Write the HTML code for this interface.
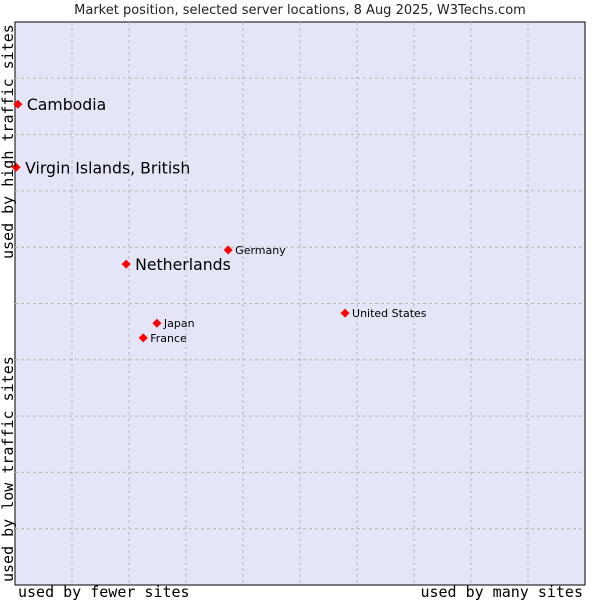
<!DOCTYPE html>
<html><head><meta charset="utf-8"><style>
body{margin:0;background:#fff;}
svg{display:block;}
</style></head><body>
<svg id="chart" width="600" height="600" xmlns="http://www.w3.org/2000/svg">
<rect x="0" y="0" width="600" height="600" fill="#fff"/>
<text x="300" y="14" text-anchor="middle" font-family="DejaVu Sans, sans-serif" font-size="13" fill="#222">Market position, selected server locations, 8 Aug 2025, W3Techs.com</text>
<rect x="15" y="22" width="570" height="563" fill="#e4e6f8" stroke="#000" stroke-width="1"/>
<g id="grid"></g>
<g id="points"></g>
<text x="18" y="597" font-family="DejaVu Sans Mono, monospace" font-size="15" fill="#000">used by fewer sites</text>
<text x="583" y="597" text-anchor="end" font-family="DejaVu Sans Mono, monospace" font-size="15" fill="#000">used by many sites</text>
<text transform="translate(13,259) rotate(-90)" font-family="DejaVu Sans Mono, monospace" font-size="15" fill="#000">used by high traffic sites</text>
<text transform="translate(13,582) rotate(-90)" font-family="DejaVu Sans Mono, monospace" font-size="15" fill="#000">used by low traffic sites</text>
</svg>
<script>
const names = ["Cambodia","Virgin Islands, British","Netherlands","Germany","United States","Japan","France"];
const xValues = [0.5,0.2,19.5,37.4,57.9,24.9,22.5];
const yValues = [85.4,74.2,57.0,59.5,48.3,46.5,43.9];
const highlighted = [true,true,true,false,false,false,false];
const NS="http://www.w3.org/2000/svg";
const X0=15,X1=585,Y0=585,Y1=22;
function sx(v){return X0+(X1-X0)*v/100;}
function sy(v){return Y0-(Y0-Y1)*v/100;}
const grid=document.getElementById('grid');
for(let i=1;i<10;i++){
  const v=document.createElementNS(NS,'line');
  v.setAttribute('x1',sx(i*10));v.setAttribute('x2',sx(i*10));v.setAttribute('y1',Y1);v.setAttribute('y2',Y0);
  v.setAttribute('stroke','#b8b8b8');v.setAttribute('stroke-dasharray','3,3');
  
  
  grid.appendChild(v);
  const h=document.createElementNS(NS,'line');
  h.setAttribute('y1',sy(i*10));h.setAttribute('y2',sy(i*10));h.setAttribute('x1',X0);h.setAttribute('x2',X1);
  h.setAttribute('stroke','#b8b8b8');h.setAttribute('stroke-dasharray','3,3');
  
  
  grid.appendChild(h);
}
const pts=document.getElementById('points');
names.forEach((n,i)=>{
  const x=sx(xValues[i]),y=sy(yValues[i]);
  const d=document.createElementNS(NS,'path');
  d.setAttribute('d',`M${x-4.5},${y} L${x},${y-4.5} L${x+4.5},${y} L${x},${y+4.5}Z`);
  d.setAttribute('fill','#f00');
  
  
  pts.appendChild(d);
  const t=document.createElementNS(NS,'text');
  t.setAttribute('x',x+(highlighted[i]?9:7));
  t.setAttribute('y',y+(highlighted[i]?6:4));
  t.setAttribute('font-family','DejaVu Sans, sans-serif');
  t.setAttribute('font-size',highlighted[i]?'15.7':'11');
  t.setAttribute('fill','#000');
  t.textContent=n;
  
  
  pts.appendChild(t);
});
</script>
</body></html>
